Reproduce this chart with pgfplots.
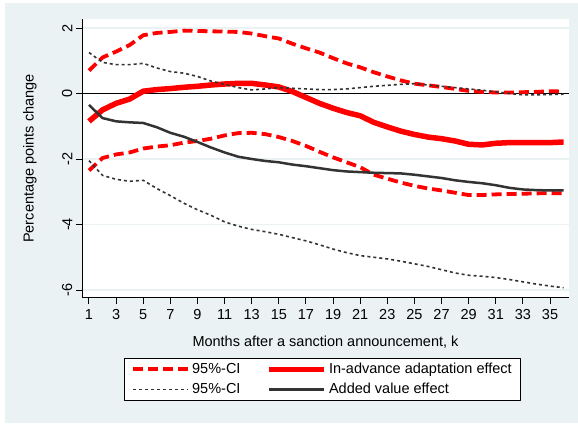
\documentclass[border=0pt]{standalone}
\usepackage{fontspec}
\setmainfont{Liberation Sans}
\usepackage{pgfplots}
\usepackage{pgfplotstable}
\pgfplotsset{compat=1.18}

\definecolor{bgcol}{RGB}{234,242,243}
\definecolor{redline}{RGB}{255,0,0}
\definecolor{darkline}{RGB}{51,51,51}

% k, red CI upper/lower, in-advance effect, black CI upper/lower, added value effect
\pgfplotstableread{
k  ru     rl     ra     bu     bl     bv
1  0.70  -2.35  -0.85   1.25  -2.05  -0.35
2  1.10  -1.97  -0.50   0.95  -2.50  -0.75
3  1.28  -1.86  -0.30   0.88  -2.62  -0.85
4  1.48  -1.80  -0.17   0.88  -2.68  -0.88
5  1.78  -1.68   0.07   0.92  -2.65  -0.90
6  1.85  -1.62   0.12   0.78  -2.90  -1.03
7  1.88  -1.58   0.15   0.67  -3.12  -1.20
8  1.92  -1.50   0.19   0.62  -3.35  -1.32
9  1.91  -1.45   0.22   0.52  -3.55  -1.48
10 1.90  -1.38   0.26   0.38  -3.72  -1.65
11 1.89  -1.28   0.29   0.28  -3.92  -1.80
12 1.88  -1.21   0.31   0.18  -4.05  -1.93
13 1.83  -1.20   0.31   0.11  -4.15  -2.00
14 1.75  -1.24   0.26   0.14  -4.22  -2.06
15 1.68  -1.33   0.20   0.18  -4.30  -2.10
16 1.52  -1.45   0.06   0.16  -4.40  -2.17
17 1.38  -1.60  -0.12   0.14  -4.50  -2.22
18 1.25  -1.78  -0.30   0.12  -4.62  -2.28
19 1.08  -1.95  -0.45   0.12  -4.75  -2.34
20 0.92  -2.10  -0.58   0.14  -4.86  -2.38
21 0.80  -2.25  -0.68   0.18  -4.95  -2.40
22 0.65  -2.48  -0.88   0.22  -5.00  -2.42
23 0.52  -2.60  -1.02   0.25  -5.05  -2.43
24 0.40  -2.72  -1.15   0.28  -5.12  -2.44
25 0.30  -2.82  -1.25   0.30  -5.20  -2.48
26 0.25  -2.90  -1.33   0.26  -5.28  -2.53
27 0.20  -2.96  -1.38   0.22  -5.38  -2.58
28 0.14  -3.03  -1.45   0.18  -5.48  -2.65
29 0.08  -3.10  -1.55   0.14  -5.55  -2.70
30 0.05  -3.10  -1.57   0.10  -5.58  -2.74
31 0.03  -3.08  -1.52   0.05  -5.62  -2.80
32 0.03  -3.07  -1.50   0.00  -5.68  -2.88
33 0.04  -3.06  -1.50  -0.04  -5.75  -2.93
34 0.05  -3.05  -1.50  -0.04  -5.82  -2.95
35 0.07  -3.04  -1.50  -0.03  -5.88  -2.96
36 0.06  -3.05  -1.48  -0.02  -5.93  -2.96
}\effects

\begin{document}
\begin{tikzpicture}[font=\fontsize{14.5}{17}\selectfont]
% graph region
\fill[white] (0pt,0pt) rectangle (578pt,423pt);
\fill[bgcol] (5pt,0pt) rectangle (578pt,420pt);
\begin{axis}[
    at={(82pt,125pt)}, anchor=south west,
    scale only axis,
    width=487pt, height=279pt,
    xmin=0.484, xmax=36.4,
    ymin=-6.244, ymax=2.275,
    axis x line*=bottom, axis y line*=left,
    axis line style={black, line width=1pt},
    axis background/.style={fill=white},
    xtick={1,3,...,35},
    ytick={-6,-4,...,2},
    tick align=outside,
    major tick length=6pt,
    tick style={black, line width=1pt},
    /pgf/number format/assume math mode=true,
    yticklabel style={rotate=90, anchor=south, inner sep=3.5pt},
    xticklabel style={inner sep=5pt},
    ymajorgrids,
    major grid style={bgcol, line width=1.3pt},
    extra y ticks={0},
    extra y tick labels={},
    extra y tick style={grid=major, major grid style={black, line width=0.9pt}, tick style={draw=none}},
    xlabel={Months after a sanction announcement, k},
    ylabel={Percentage points change},
    every axis x label/.style={at={(axis description cs:0.5,-0.1566)}, anchor=center},
    every axis y label/.style={at={(axis description cs:-0.1068,0.5)}, rotate=90, anchor=center},
    legend columns=2,
    legend cell align=left,
    legend image code/.code={\draw[#1, line cap=butt] (0pt,0pt) -- (55pt,0pt);},
    legend style={at={(0.0862,-0.215)}, anchor=north west,
        draw=black, line width=0.8pt, fill=white,
        inner xsep=7pt, inner ysep=3pt, row sep=4pt,
        nodes={inner sep=2pt},
        /tikz/every even column/.append style={column sep=24pt}},
    line join=round,
]
\addplot[redline, line width=3.8pt, dash pattern=on 10pt off 5pt] table[x=k, y=ru] {\effects};
\addlegendentry{95\%-CI}
\addplot[redline, line width=3.8pt, dash pattern=on 10pt off 5pt, forget plot] table[x=k, y=rl] {\effects};
\addplot[redline, line width=5.5pt] table[x=k, y=ra] {\effects};
\addlegendentry{In-advance adaptation effect}
\addplot[darkline, line width=1.6pt, dash pattern=on 3pt off 3pt] table[x=k, y=bu] {\effects};
\addlegendentry{95\%-CI}
\addplot[darkline, line width=1.6pt, dash pattern=on 3pt off 3pt, forget plot] table[x=k, y=bl] {\effects};
\addplot[darkline, line width=2.5pt] table[x=k, y=bv] {\effects};
\addlegendentry{Added value effect}
\end{axis}
\end{tikzpicture}
\end{document}
